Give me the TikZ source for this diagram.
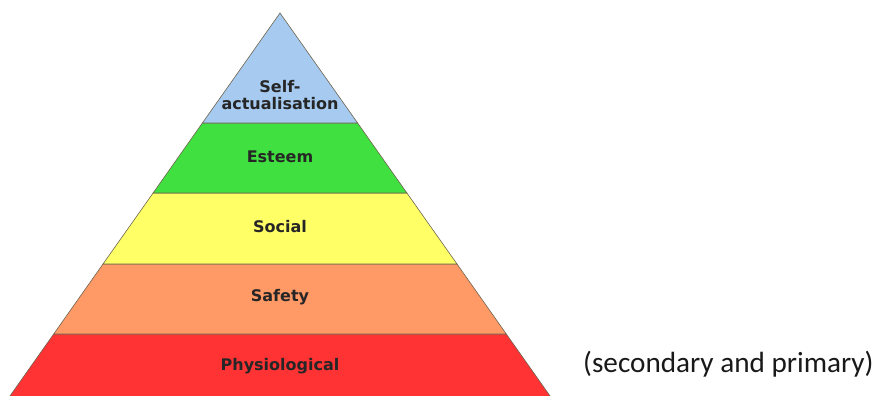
\documentclass[tikz,border=0pt]{standalone}
\usepackage{fontspec}
\newfontfamily\lblfont{DejaVu Sans}
\newfontfamily\notefont{Carlito}
\definecolor{cblue}{RGB}{166,202,240}
\definecolor{cgreen}{RGB}{64,224,64}
\definecolor{cyellow}{RGB}{255,255,102}
\definecolor{corange}{RGB}{255,153,102}
\definecolor{cred}{RGB}{255,51,51}
\definecolor{cedge}{RGB}{110,100,80}
\begin{document}
\begin{tikzpicture}[x=1pt,y=-1pt,
  band/.style={draw=cedge,line width=0.6pt,line join=miter},
  lbl/.style={font=\lblfont\bfseries\fontsize{16}{17}\selectfont,text=black!85,align=center,inner sep=0pt},
  note/.style={font=\notefont\fontsize{29.2}{32}\selectfont,text=black!90,inner sep=0pt}]
\path[use as bounding box] (0,0) rectangle (876,396);
\begin{scope}
\clip (0,0) rectangle (876,396);
\coordinate (apex) at (280,13);
\coordinate (l1) at (202.4,123); \coordinate (r1) at (357.6,123);
\coordinate (l2) at (153.1,193); \coordinate (r2) at (406.9,193);
\coordinate (l3) at (103,264);   \coordinate (r3) at (457,264);
\coordinate (l4) at (53.7,334);  \coordinate (r4) at (506.3,334);
\coordinate (l5) at (10,396);    \coordinate (r5) at (550,396);
\coordinate (l6) at (5,403);     \coordinate (r6) at (555,403);
\fill[cred] (l4) -- (r4) -- (r6) -- (l6) -- cycle;
\draw[band] (l6) -- (l4) -- (r4) -- (r6);
\filldraw[band,fill=corange] (l3) -- (r3) -- (r4) -- (l4) -- cycle;
\filldraw[band,fill=cyellow] (l2) -- (r2) -- (r3) -- (l3) -- cycle;
\filldraw[band,fill=cgreen] (l1) -- (r1) -- (r2) -- (l2) -- cycle;
\filldraw[band,fill=cblue] (apex) -- (r1) -- (l1) -- cycle;
\end{scope}
\node[lbl] (self) at (280,95) {Self-\\actualisation};
\node[lbl] (esteem) at (280,157) {Esteem};
\node[lbl] (social) at (280,227) {Social};
\node[lbl] (safety) at (280,297) {Safety};
\node[lbl] (phys) at (280,366) {Physiological};
\node[note,anchor=west] (sec) at (583,364) {(secondary and primary)};
\end{tikzpicture}
\end{document}
